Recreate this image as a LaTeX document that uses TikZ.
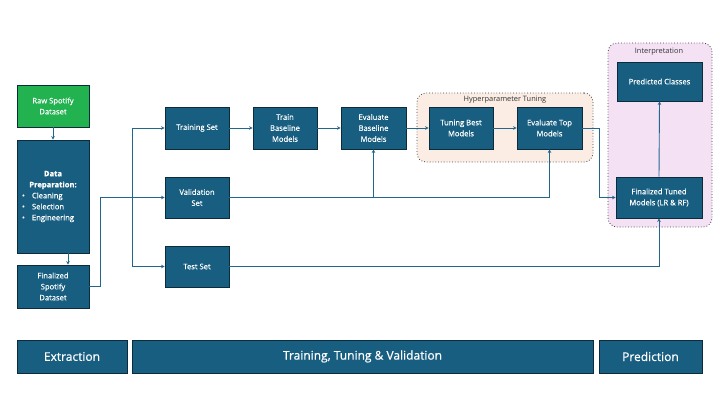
\documentclass[tikz,border=0pt]{standalone}
\usepackage{fontspec}
\setmainfont{Open Sans}
\newfontfamily\medfont[FakeBold=0.6]{Open Sans}
\usetikzlibrary{arrows.meta}
\definecolor{boxblue}{HTML}{175E80}
\definecolor{boxborder}{HTML}{0C2B3B}
\definecolor{rawgreen}{HTML}{22B24F}
\definecolor{linkblue}{HTML}{23668C}
\definecolor{peach}{HTML}{FBEDE4}
\definecolor{pink}{HTML}{F4E1F4}
\definecolor{labelgray}{HTML}{333333}
\tikzset{
  stepbox/.style={draw=boxborder, line width=0.9pt, fill=boxblue, text=white, align=center,
    inner sep=1pt, font=\medfont\fontsize{7.6}{11}\selectfont},
  barbox/.style={draw=boxborder, line width=0.9pt, fill=boxblue, text=white,
    font=\medfont\fontsize{12}{14}\selectfont},
  groupbg/.style={draw=black!75, dotted, line width=0.8pt, rounded corners=9pt},
  grouplabel/.style={text=labelgray, font=\fontsize{7.4}{8}\selectfont, inner sep=0pt},
  arr/.style={draw=linkblue, line width=0.9pt, -{Stealth[length=3.5pt,width=3.5pt]}}
}
\begin{document}
\begin{tikzpicture}[x=1pt,y=-1pt]
\useasboundingbox[fill=white] (0,0) rectangle (720,405);

% group backgrounds
\node[groupbg, fill=peach, minimum width=176pt, minimum height=69pt, inner sep=0pt] (hyperbg) at (505,127.5) {};
\node[grouplabel] (hyperlbl) at (505,99.5) {Hyperparameter Tuning};
\node[groupbg, fill=pink, minimum width=104pt, minimum height=184pt, inner sep=0pt] (interpbg) at (660,135) {};
\node[grouplabel] (interplbl) at (659,52) {Interpretation};

% extraction column
\node[stepbox, fill=rawgreen, minimum width=72pt, minimum height=42pt] (raw) at (53,106) {Raw Spotify\\Dataset};
\node[stepbox, minimum width=72pt, minimum height=113pt, text width=66pt, align=left] (prep) at (53,196.5)
  {\centering\textbf{Data}\\\textbf{Preparation:}\par
   \raggedright\hspace*{2pt}\makebox[10pt][l]{\textbullet}Cleaning\\
   \hspace*{2pt}\makebox[10pt][l]{\textbullet}Selection\\
   \hspace*{2pt}\makebox[10pt][l]{\textbullet}Engineering\par};
\node[stepbox, minimum width=72pt, minimum height=43pt] (fin) at (53,286.5) {Finalized\\Spotify\\Dataset};

% splits
\node[stepbox, minimum width=64pt, minimum height=42pt] (trainset) at (197,128) {Training Set};
\node[stepbox, minimum width=64pt, minimum height=41pt] (valset) at (197,197.5) {Validation\\Set};
\node[stepbox, minimum width=64pt, minimum height=41pt] (testset) at (197,266.5) {Test Set};

% model steps
\node[stepbox, minimum width=64pt, minimum height=42pt] (trainbase) at (285,128) {Train\\Baseline\\Models};
\node[stepbox, minimum width=65pt, minimum height=42pt] (evalbase) at (373.5,128) {Evaluate\\Baseline\\Models};
\node[stepbox, minimum width=64pt, minimum height=42pt] (tuning) at (461,128) {Tuning Best\\Models};
\node[stepbox, minimum width=65pt, minimum height=42pt] (evaltop) at (549.5,128) {Evaluate Top\\Models};
\node[stepbox, minimum width=86pt, minimum height=41pt] (fintuned) at (659,197.5) {Finalized Tuned\\Models (LR \& RF)};
\node[stepbox, minimum width=85pt, minimum height=39pt] (pred) at (659.5,81.5) {Predicted Classes};

% bottom bars
\node[barbox, minimum width=110pt, minimum height=33pt] (extbar) at (72,356.5) {Extraction};
\node[barbox, minimum width=461pt, minimum height=33pt] (ttvbar) at (362.5,356.5) {Training, Tuning \& Validation};
\node[barbox, minimum width=103pt, minimum height=33pt] (predbar) at (650.5,356.5) {Prediction};

% connectors
\draw[arr] (raw.south) -- (prep.north);
\draw[arr] ([xshift=15pt]prep.south) -- ([xshift=15pt]fin.north);
\draw[arr] (fin.east) -- ++(11,0) |- (valset.west);
\coordinate (trunk) at (132,197.5);
\draw[arr] (trunk) |- (trainset.west);
\draw[arr] (trunk) |- (testset.west);
\draw[arr] (trainset.east) -- (trainbase.west);
\draw[arr] (trainbase.east) -- (evalbase.west);
\draw[arr] (evalbase.east) -- (tuning.west);
\draw[arr] (tuning.east) -- (evaltop.west);
\draw[arr] (valset.east) -| (evalbase.south);
\draw[arr] (valset.east) -| (evaltop.south);
\draw[arr] (evaltop.east) -- ++(17,0) |- (fintuned.west);
\draw[arr] (testset.east) -| (fintuned.south);
\draw[arr] (fintuned.north) -- (pred.south);
\end{tikzpicture}
\end{document}
